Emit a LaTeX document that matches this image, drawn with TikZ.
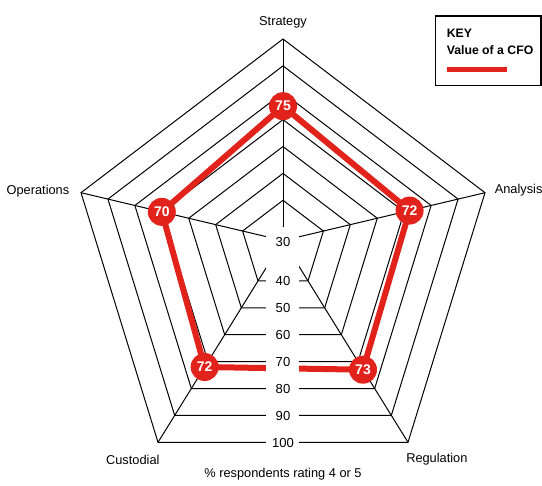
\documentclass[tikz,border=0pt]{standalone}
\usepackage{fontspec}
\setmainfont{Liberation Sans}
\usetikzlibrary{calc}
\definecolor{cfored}{RGB}{226,35,28}
\begin{document}
\begin{tikzpicture}[x=0.75pt,y=-0.75pt,
  grid/.style={black, line width=0.75pt, line join=miter},
  series/.style={cfored, line width=4.5pt, line join=round},
  marker/.style={circle, fill=cfored, text=white, inner sep=0pt,
    minimum size=21pt, font=\bfseries\fontsize{10.5}{12}\selectfont},
  axislabel/.style={font=\fontsize{9.6}{11}\selectfont, inner sep=0pt},
  scalelabel/.style={font=\fontsize{9.8}{11}\selectfont, inner sep=0pt},
  keytext/.style={font=\bfseries\fontsize{9.2}{11}\selectfont, inner sep=0pt, anchor=west},
]
\useasboundingbox (0,0) rectangle (542,485);

% centre of the web and the corners of the 100% ring
\coordinate (C)  at (283,240.6);
\coordinate (V1) at (283,39);
\coordinate (V2) at (485,192.7);
\coordinate (V3) at (408,442.3);
\coordinate (V4) at (158,442.3);
\coordinate (V5) at (81,192.7);

% rings from 30 to 100
\foreach \v in {30,40,...,100}{
  \pgfmathsetmacro\s{(\v-25)/75}
  \draw[grid] ($(C)!\s!(V1)$) -- ($(C)!\s!(V2)$) -- ($(C)!\s!(V3)$)
    -- ($(C)!\s!(V4)$) -- ($(C)!\s!(V5)$) -- cycle;
}
% spokes
\foreach \i in {1,...,5}{
  \draw[grid] (V\i) -- (C);
}

% data points
\coordinate (d1) at ($(C)!0.6667!(V1)$);
\coordinate (d2) at ($(C)!0.6267!(V2)$);
\coordinate (d3) at ($(C)!0.64!(V3)$);
\coordinate (d4) at ($(C)!0.6267!(V4)$);
\coordinate (d5) at ($(C)!0.6!(V5)$);
\draw[series] (d1) -- (d2) -- (d3) -- (d4) -- (d5) -- cycle;

% white strip carrying the scale
\node[fill=white, inner sep=0pt, minimum width=24.75pt, minimum height=168.75pt]
  (gap) at (282.5,339.5) {};
\node[scalelabel] (s30)  at (283,242) {30};
\node[scalelabel] (s40)  at (283,281.2) {40};
\node[scalelabel] (s50)  at (283,308.1) {50};
\node[scalelabel] (s60)  at (283,335) {60};
\node[scalelabel] (s70)  at (283,361.9) {70};
\node[scalelabel] (s80)  at (283,388.8) {80};
\node[scalelabel] (s90)  at (283,415.7) {90};
\node[scalelabel] (s100) at (283,442.6) {100};

% value markers
\node[marker] (m1) at (d1) {75};
\node[marker] (m2) at (d2) {72};
\node[marker] (m3) at (d3) {73};
\node[marker] (m4) at (d4) {72};
\node[marker] (m5) at (d5) {70};

% axis names
\node[axislabel] (aS) at (283,22) {Strategy};
\node[axislabel, anchor=west] (aA) at (494.5,190.5) {Analysis};
\node[axislabel, anchor=east] (aO) at (69.5,191) {Operations};
\node[axislabel] (aC) at (132.8,459.5) {Custodial};
\node[axislabel, anchor=west] (aR) at (406,459.5) {Regulation};
\node[axislabel] (unit) at (283,474.5) {\% respondents rating 4 or 5};

% key
\draw[line width=1pt] (435.5,16) rectangle (541,85.5);
\node[keytext] (kT) at (446.5,33.5) {KEY};
\node[keytext] (kV) at (446.5,50) {Value of a CFO};
\coordinate (k1) at (446.5,70);
\coordinate (k2) at (506.5,70);
\draw[cfored, line width=3.75pt] (k1) -- (k2);
\end{tikzpicture}
\end{document}
